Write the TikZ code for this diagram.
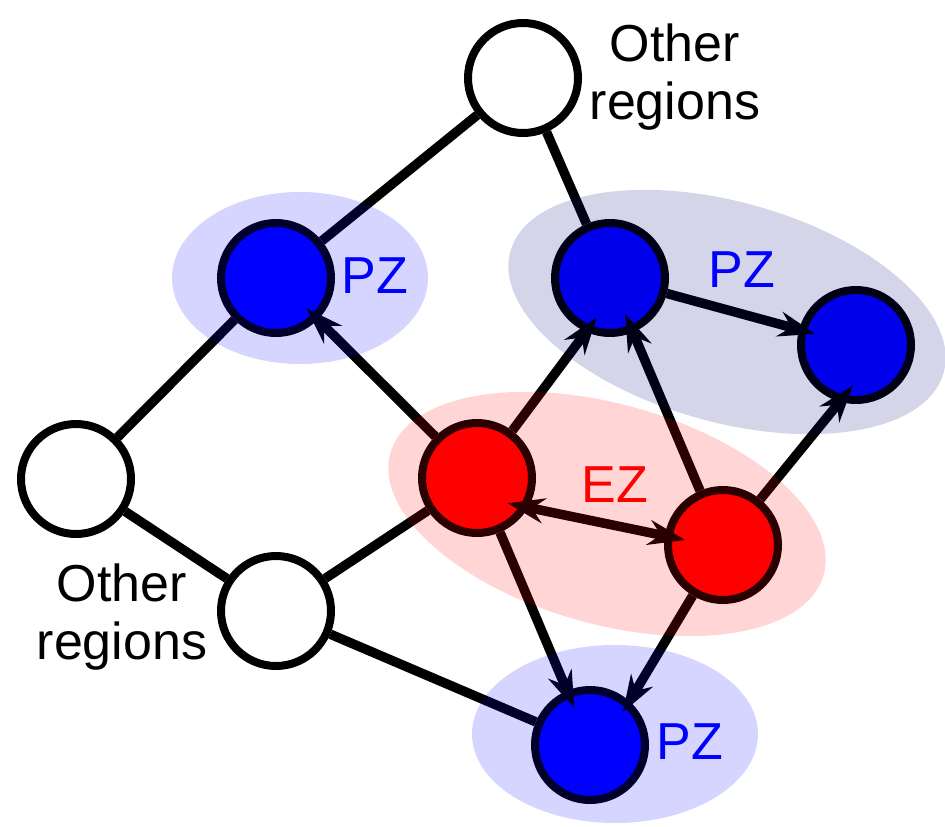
\documentclass[tikz,border=0pt]{standalone}
\usepackage{fontspec}
\setmainfont{Liberation Sans}
\usetikzlibrary{shapes.geometric,arrows.meta}
\definecolor{pzblue}{RGB}{0,0,255}
\definecolor{ezred}{RGB}{255,0,0}
\definecolor{navyz}{RGB}{0,0,128}
\begin{document}
\begin{tikzpicture}[x=1pt,y=-1pt,
  region/.style={circle, draw=black, line width=8pt, minimum size=110pt, inner sep=0pt},
  other/.style={region, fill=white},
  pz/.style={region, fill=pzblue},
  ez/.style={region, fill=ezred},
  link/.style={line width=9.5pt, draw=black},
  flow/.style={link, -{Stealth[length=37pt,width=25pt,inset=12pt]}, shorten >=-18pt},
  flowboth/.style={link, {Stealth[length=37pt,width=25pt,inset=12pt]}-{Stealth[length=37pt,width=25pt,inset=12pt]}, shorten >=-21pt, shorten <=-21pt},
  zone/.style={ellipse, draw=none, inner sep=0pt, fill opacity=0.165},
  lab/.style={font=\fontsize{52}{58}\selectfont, inner sep=0pt, align=center}
]
\useasboundingbox (0,0) rectangle (945,827);

% nodes
\node[other] (top) at (523,78) {};
\node[other] (lw) at (76,479) {};
\node[other] (bw) at (276,611) {};
\node[pz] (lb) at (276,278) {};
\node[pz] (tb) at (610,278) {};
\node[pz] (rb) at (856,345) {};
\node[pz] (bb) at (590,745) {};
\node[ez] (r1) at (477,478) {};
\node[ez] (r2) at (723,545) {};

% plain links
\draw[link] (top) -- (lb);
\draw[link] (top) -- (tb);
\draw[link] (lb) -- (lw);
\draw[link] (lw) -- (bw);
\draw[link] (bw) -- (r1);
\draw[link] (bw) -- (bb);

% flows
\draw[flow, shorten >=-16pt] (r1) -- (lb);
\draw[flow] (r1) -- (tb.246);
\draw[flowboth] (r1.330) -- (r2.171);
\draw[flow, shorten >=-19pt] (r1) -- (bb);
\draw[flow, shorten >=-20pt] (r2) -- (tb);
\draw[flow, shorten >=-21pt] (r2) -- (rb.254);
\draw[flow, shorten >=-13pt] (r2) -- (bb.48);
\draw[flow, shorten >=-17pt] (tb) -- (rb);

% zones
\node[zone, fill=pzblue, minimum width=256pt, minimum height=172pt] (zl) at (300,278) {};
\node[zone, fill=navyz, minimum width=450pt, minimum height=220pt, rotate=-15.7] (zr) at (727,312) {};
\node[zone, fill=ezred, minimum width=450pt, minimum height=220pt, rotate=-15.7] (ze) at (607,514) {};
\node[zone, fill=pzblue, minimum width=286pt, minimum height=178pt] (zb) at (615,734) {};

% labels
\node[lab, anchor=north] (otr) at (675,24) {Other\\regions};
\node[lab, anchor=north] (obl) at (122,564) {Other\\regions};
\node[lab, text=pzblue] (pzl) at (375,276) {PZ};
\node[lab, text=pzblue] (pzr) at (742,270) {PZ};
\node[lab, text=pzblue] (pzb) at (690,742) {PZ};
\node[lab, text=ezred] (ezl) at (615,485) {EZ};
\end{tikzpicture}
\end{document}
